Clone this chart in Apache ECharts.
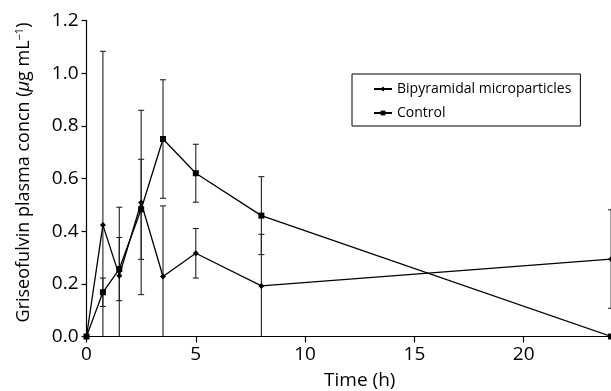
<!DOCTYPE html>
<html>
<head>
<meta charset="utf-8">
<script src="https://cdn.jsdelivr.net/npm/echarts@6/dist/echarts.min.js"></script>
<style>html,body{margin:0;padding:0;background:#fff}#c{width:611px;height:391px}</style>
</head>
<body>
<div id="c"></div>
<script>
const times = [0, 0.75, 1.5, 2.5, 3.5, 5, 8, 24];
const bipyMean = [0, 0.423, 0.231, 0.509, 0.228, 0.316, 0.192, 0.294];
const bipySD = [0, 0.66, 0.26, 0.35, 0.268, 0.094, 0.196, 0.187];
const controlMean = [0, 0.168, 0.256, 0.483, 0.750, 0.620, 0.459, 0];
const controlSD = [0, 0.054, 0.12, 0.19, 0.225, 0.11, 0.148, 0];
const seriesNames = ['Bipyramidal microparticles', 'Control'];
const yTicks = [0, 0.2, 0.4, 0.6, 0.8, 1.0, 1.2];
const xTicks = [0, 5, 10, 15, 20, 25];

const FONT = 'Open Sans';

function errData(mean, sd) {
  return times.map((t, i) => [t, mean[i] - sd[i], mean[i] + sd[i], sd[i]]);
}

function renderErr(params, api) {
  const x = api.value(0), lo = api.value(1), hi = api.value(2), sd = api.value(3);
  if (!(sd > 0)) return null;
  const pHi = api.coord([x, hi]);
  const pLo = api.coord([x, Math.max(lo, 0)]);
  const hw = 3;
  const st = { stroke: '#222', lineWidth: 1.1 };
  const children = [
    { type: 'line', shape: { x1: pHi[0], y1: pHi[1], x2: pLo[0], y2: pLo[1] }, style: st },
    { type: 'line', shape: { x1: pHi[0] - hw, y1: pHi[1], x2: pHi[0] + hw, y2: pHi[1] }, style: st }
  ];
  if (lo > 0) {
    children.push({ type: 'line', shape: { x1: pLo[0] - hw, y1: pLo[1], x2: pLo[0] + hw, y2: pLo[1] }, style: st });
  }
  return { type: 'group', children: children };
}

const chart = echarts.init(document.getElementById('c'), null, { renderer: 'canvas' });
chart.setOption({
  animation: false,
  backgroundColor: '#fff',
  textStyle: { fontFamily: FONT, color: '#000' },
  grid: { left: 86.5, top: 20.5, width: 546.5, bottom: 54.5, outerBoundsMode: 'none', containLabel: false },
  legend: {
    data: seriesNames,
    orient: 'vertical',
    left: 352,
    top: 74,
    borderColor: '#000',
    borderWidth: 1,
    padding: [6, 9, 4, 21],
    itemGap: 6,
    itemWidth: 18,
    itemHeight: 6,
    textStyle: { fontFamily: FONT, fontSize: 14, color: '#000', lineHeight: 18 }
  },
  xAxis: {
    type: 'value',
    min: 0, max: 25, interval: 5,
    name: 'Time (h)',
    nameLocation: 'middle',
    nameGap: 35,
    nameTextStyle: { fontFamily: FONT, fontSize: 19, color: '#000' },
    axisLine: { show: true, onZero: false, lineStyle: { color: '#000', width: 1.2 } },
    axisTick: { show: true, inside: false, length: 6, lineStyle: { color: '#000', width: 1.2 } },
    axisLabel: { fontFamily: FONT, fontSize: 19, color: '#000', margin: 9,
      formatter: v => xTicks.includes(v) ? String(v) : '' },
    splitLine: { show: false }
  },
  yAxis: {
    type: 'value',
    min: 0, max: 1.2, interval: 0.2,
    name: 'Griseofulvin plasma concn ({it|μ}g mL{sup|−1})',
    nameLocation: 'middle',
    nameGap: 54,
    nameTextStyle: { fontFamily: FONT, fontSize: 18, color: '#000', padding: [0, 0, 0, 12],
      rich: {
        it: { fontFamily: FONT, fontSize: 18, fontStyle: 'italic', color: '#000' },
        sup: { fontFamily: FONT, fontSize: 11, color: '#000', verticalAlign: 'top', padding: [0, 0, 7, 0] }
      } },
    axisLine: { show: true, lineStyle: { color: '#000', width: 1.2 } },
    axisTick: { show: true, inside: false, length: 5, lineStyle: { color: '#000', width: 1.2 } },
    axisLabel: { fontFamily: FONT, fontSize: 19, color: '#000', margin: 8,
      formatter: v => yTicks.some(t => Math.abs(t - v) < 1e-6) ? v.toFixed(1) : '' },
    splitLine: { show: false }
  },
  series: [
    {
      name: seriesNames[0], type: 'line',
      data: times.map((t, i) => [t, bipyMean[i]]),
      symbol: 'diamond', symbolSize: 6,
      lineStyle: { color: '#000', width: 1.3 },
      itemStyle: { color: '#000' },
      z: 3
    },
    {
      name: seriesNames[1], type: 'line',
      data: times.map((t, i) => [t, controlMean[i]]),
      symbol: 'rect', symbolSize: 6,
      lineStyle: { color: '#000', width: 1.3 },
      itemStyle: { color: '#000' },
      z: 3
    },
    {
      type: 'custom', name: 'bipyErr',
      data: errData(bipyMean, bipySD),
      renderItem: renderErr,
      encode: { x: 0, y: [1, 2] },
      z: 2, silent: true
    },
    {
      type: 'custom', name: 'controlErr',
      data: errData(controlMean, controlSD),
      renderItem: renderErr,
      encode: { x: 0, y: [1, 2] },
      z: 2, silent: true
    }
  ]
});
</script>
</body>
</html>
